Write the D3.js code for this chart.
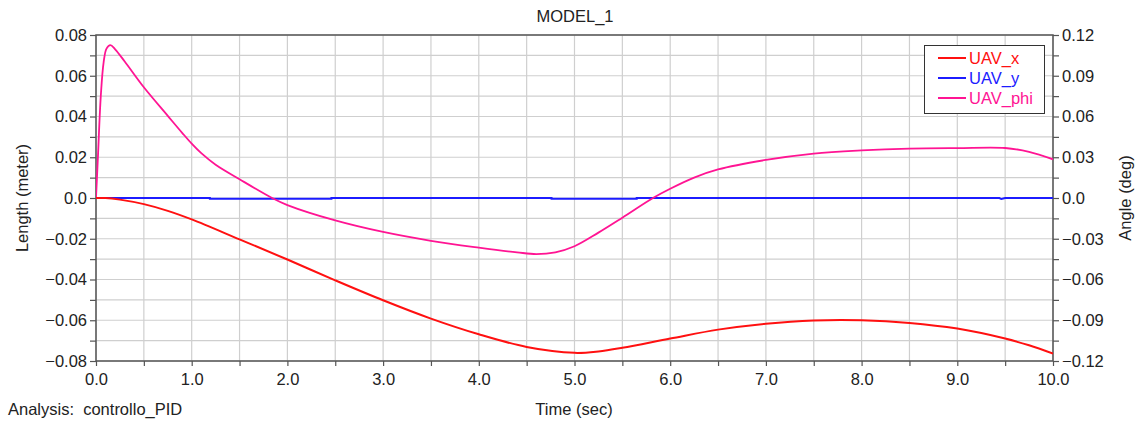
<!DOCTYPE html>
<html><head><meta charset="utf-8">
<script src="https://cdn.jsdelivr.net/npm/d3@7"></script>
<style>
html,body{margin:0;padding:0;background:#fff;}
svg{display:block;font-family:"Liberation Sans",Arial,sans-serif;}
</style></head>
<body><svg id="chart" width="1141" height="423"></svg>
<script>
// ---- data ----
const title = "MODEL_1";
const xLabel = "Time (sec)";
const yLeftLabel = "Length (meter)";
const yRightLabel = "Angle (deg)";
const analysisLabel = "Analysis:  controllo_PID";
const seriesNames = ["UAV_x", "UAV_y", "UAV_phi"];
const seriesColors = ["#ff1010", "#1c1cff", "#ff1493"];

// UAV_x (meter, left axis)
const uavXTime = [0, 0.1, 0.25, 0.5, 0.75, 1.0, 1.5, 2.0, 2.5, 3.0, 3.5, 4.0, 4.5, 5.0, 5.25, 5.5, 6.0, 6.5, 7.0, 7.5, 8.0, 8.5, 9.0, 9.5, 9.75, 10.0];
const uavXVal  = [0, 0, -0.0008, -0.003, -0.0063, -0.0105, -0.0203, -0.0302, -0.0404, -0.0502, -0.0592, -0.0669, -0.0731, -0.0760, -0.0753, -0.0735, -0.0690, -0.0646, -0.0617, -0.0601, -0.0600, -0.0613, -0.0641, -0.0690, -0.0723, -0.0764];

// UAV_y (meter, left axis)
const uavYTime = [0, 1.19, 1.19, 2.46, 2.46, 4.76, 4.76, 5.65, 5.65, 9.44, 9.46, 9.5, 10.0];
const uavYVal  = [0, 0, -0.0004, -0.0004, 0, 0, -0.0004, -0.0004, 0, 0, -0.0005, 0, 0];

// UAV_phi (deg, right axis)
const uavPhiTime = [0, 0.02, 0.05, 0.08, 0.11, 0.15, 0.2, 0.3, 0.5, 0.75, 0.9, 1.0, 1.1, 1.25, 1.5, 1.84, 2.0, 2.5, 3.0, 3.5, 4.0, 4.4, 4.6, 4.8, 5.0, 5.25, 5.5, 5.82, 6.0, 6.25, 6.5, 7.0, 7.5, 8.0, 8.5, 9.0, 9.5, 9.75, 10.0];
const uavPhiVal  = [0, 0.03, 0.075, 0.100, 0.110, 0.1125, 0.1095, 0.1005, 0.0815, 0.0605, 0.048, 0.040, 0.033, 0.0245, 0.0138, 0, -0.0052, -0.0165, -0.025, -0.0315, -0.0365, -0.040, -0.0413, -0.040, -0.0355, -0.0255, -0.0145, 0, 0.0068, 0.015, 0.021, 0.028, 0.0327, 0.035, 0.0363, 0.0367, 0.0368, 0.034, 0.0285];

const xTicks = [0,1,2,3,4,5,6,7,8,9,10];
const yLeftTicks = [-0.08,-0.06,-0.04,-0.02,0,0.02,0.04,0.06,0.08];
const yRightTicks = [-0.12,-0.09,-0.06,-0.03,0,0.03,0.06,0.09,0.12];

// ---- layout ----
const svg = d3.select("#chart");
const L = 96, R = 1053, T = 35, B = 361;
const x = d3.scaleLinear().domain([0,10]).range([L,R]);
const yL = d3.scaleLinear().domain([-0.08,0.08]).range([B,T]);
const yR = d3.scaleLinear().domain([-0.12,0.12]).range([B,T]);
const fontSize = "16.5px";
const textCol = "#222";

// grid
const gx = d3.range(0, 10.001, 0.5);
const gy = d3.range(-0.08, 0.0801, 0.01);
svg.append("g").selectAll("line").data(gx).join("line")
  .attr("x1", d=>x(d)).attr("x2", d=>x(d)).attr("y1", T).attr("y2", B)
  .attr("stroke", "#cfcfcf").attr("stroke-width", 1.2);
svg.append("g").selectAll("line").data(gy).join("line")
  .attr("y1", d=>yL(d)).attr("y2", d=>yL(d)).attr("x1", L).attr("x2", R)
  .attr("stroke", "#cfcfcf").attr("stroke-width", 1.2);

// frame
svg.append("rect").attr("x", L).attr("y", T).attr("width", R-L).attr("height", B-T)
  .attr("fill", "none").attr("stroke", "#555").attr("stroke-width", 1.5);

// axes
function styleAxis(g){
  g.select(".domain").remove();
  g.selectAll(".tick line").attr("stroke", "#555").attr("stroke-width", 1.2);
  g.selectAll("text").attr("font-size", fontSize).attr("fill", textCol)
    .attr("font-family", "'Liberation Sans', Arial, sans-serif");
}
const fmtL = d => d === 0 ? "0.0" : d3.format(".2f")(d);
const fmtX = d => d3.format(".1f")(d);

svg.append("g").attr("transform", `translate(0,${B})`)
  .call(d3.axisBottom(x).tickValues(gx).tickSize(5).tickFormat(d => xTicks.includes(d) ? fmtX(d) : ""))
  .call(styleAxis).call(g => g.selectAll("text").attr("dy", "0.95em"));

svg.append("g").attr("transform", `translate(${L},0)`)
  .call(d3.axisLeft(yL).tickValues(gy).tickSize(6).tickPadding(3)
    .tickFormat(d => { const m = yLeftTicks.find(v => Math.abs(v-d) < 1e-9); return m === undefined ? "" : fmtL(m); }))
  .call(styleAxis);

const gyR = d3.range(-0.12, 0.1201, 0.015);
svg.append("g").attr("transform", `translate(${R},0)`)
  .call(d3.axisRight(yR).tickValues(gyR).tickSize(6).tickPadding(3)
    .tickFormat(d => { const m = yRightTicks.find(v => Math.abs(v-d) < 1e-9); return m === undefined ? "" : fmtL(m); }))
  .call(styleAxis);

// series
svg.append("clipPath").attr("id","clip").append("rect")
  .attr("x", L).attr("y", T).attr("width", R-L).attr("height", B-T);
const plot = svg.append("g").attr("clip-path","url(#clip)");

const smooth = d3.curveCatmullRom.alpha(0.5);
const lineL = d3.line().x(d=>x(d[0])).y(d=>yL(d[1])).curve(smooth);
const lineLin = d3.line().x(d=>x(d[0])).y(d=>yL(d[1]));
const lineR = d3.line().x(d=>x(d[0])).y(d=>yR(d[1])).curve(smooth);

plot.append("path").datum(d3.zip(uavYTime, uavYVal)).attr("d", lineLin)
  .attr("fill","none").attr("stroke", seriesColors[1]).attr("stroke-width", 2);
plot.append("path").datum(d3.zip(uavPhiTime, uavPhiVal)).attr("d", lineR)
  .attr("fill","none").attr("stroke", seriesColors[2]).attr("stroke-width", 1.8);
plot.append("path").datum(d3.zip(uavXTime, uavXVal)).attr("d", lineL)
  .attr("fill","none").attr("stroke", seriesColors[0]).attr("stroke-width", 2);

// texts
svg.append("text").attr("x", 575).attr("y", 22).attr("text-anchor","middle")
  .attr("font-size", fontSize).attr("fill", textCol).text(title);
svg.append("text").attr("x", 574).attr("y", 415).attr("text-anchor","middle")
  .attr("font-size", fontSize).attr("fill", textCol).text(xLabel);
svg.append("text").attr("x", 8).attr("y", 415)
  .attr("font-size", fontSize).attr("fill", textCol)
  .style("white-space","pre").text(analysisLabel);
svg.append("text").attr("transform", "translate(28,198) rotate(-90)").attr("text-anchor","middle")
  .attr("font-size", fontSize).attr("fill", textCol).text(yLeftLabel);
svg.append("text").attr("transform", "translate(1131,198) rotate(-90)").attr("text-anchor","middle")
  .attr("font-size", fontSize).attr("fill", textCol).text(yRightLabel);

// legend
const lg = svg.append("g");
lg.append("rect").attr("x", 924.5).attr("y", 45.5).attr("width", 120).attr("height", 68)
  .attr("fill","#fff").attr("stroke","#333").attr("stroke-width",1);
seriesNames.forEach((n,i) => {
  const yy = 58 + i*20;
  lg.append("line").attr("x1", 938).attr("x2", 966).attr("y1", yy).attr("y2", yy)
    .attr("stroke", seriesColors[i]).attr("stroke-width", 2);
  lg.append("text").attr("x", 969).attr("y", yy).attr("dy","0.35em")
    .attr("font-size", fontSize).attr("fill", seriesColors[i]).text(n);
});
</script></body></html>
